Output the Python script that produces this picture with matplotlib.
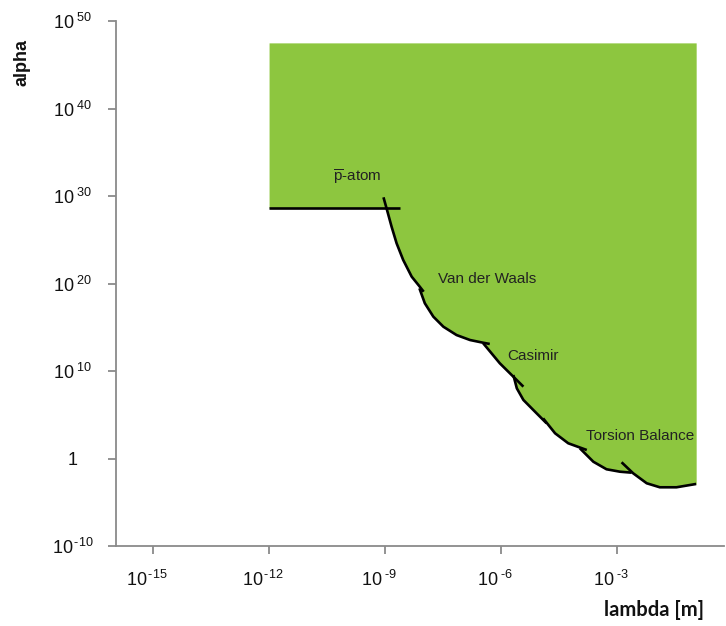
import numpy as np
import matplotlib
matplotlib.use("Agg")
import matplotlib.pyplot as plt
import matplotlib.transforms as mtransforms
from matplotlib.ticker import FixedLocator, FuncFormatter

plt.rcParams['font.family'] = ['Liberation Sans', 'DejaVu Sans']
plt.rcParams['mathtext.fontset'] = 'custom'
plt.rcParams['mathtext.rm'] = 'Liberation Sans'
plt.rcParams['mathtext.it'] = 'Liberation Sans:italic'
plt.rcParams['mathtext.bf'] = 'Liberation Sans:bold'

# ---- data (log10 exponents of lambda [m] and alpha) ----
patom_lam = [-12.0, -8.61]
patom_alpha = [28.63, 28.63]

vdw1_lam = [-9.04, -8.96, -8.83, -8.70, -8.53, -8.31, -8.10, -8.00]
vdw1_alpha = [29.85, 28.59, 26.49, 24.59, 22.69, 20.78, 19.63, 19.06]

vdw2_lam = [-8.11, -7.97, -7.75, -7.49, -7.15, -6.80, -6.46, -6.29]
vdw2_alpha = [19.45, 17.74, 16.21, 15.06, 14.11, 13.54, 13.23, 13.09]

cas_lam = [-6.46, -6.03, -5.68, -5.42]
cas_alpha = [13.17, 10.88, 9.35, 8.21]

cas2_lam = [-5.68, -5.59, -5.42, -5.12, -4.82]
cas2_alpha = [9.54, 8.02, 6.69, 5.35, 4.02]

tb1_lam = [-4.91, -4.60, -4.26, -3.78]
tb1_alpha = [4.59, 2.88, 1.74, 0.97]

tb2_lam = [-3.96, -3.61, -3.27, -2.92, -2.62]
tb2_alpha = [1.17, -0.37, -1.23, -1.51, -1.62]

tb3_lam = [-2.88, -2.58, -2.23, -1.89, -1.46, -0.95]
tb3_alpha = [-0.43, -1.69, -2.83, -3.29, -3.29, -2.91]

region_top = 47.5

labels = ["$\\overline{\\mathrm{p}}$-atom", "Van der Waals", "Casimir", "Torsion Balance"]

xtick_exp = [-15, -12, -9, -6, -3]
ytick_exp = [-10, 0, 10, 20, 30, 40, 50]

segments = [(patom_lam, patom_alpha), (vdw1_lam, vdw1_alpha), (vdw2_lam, vdw2_alpha),
            (cas_lam, cas_alpha), (cas2_lam, cas2_alpha), (tb1_lam, tb1_alpha),
            (tb2_lam, tb2_alpha), (tb3_lam, tb3_alpha)]

# ---- figure ----
W, H = 726, 626
fig = plt.figure(figsize=(W / 100, H / 100), dpi=100)
ax = fig.add_axes([116 / W, 1 - 546 / H, (724 - 116) / W, (546 - 21) / H])
ax.set_xscale('log')
ax.set_yscale('log')
ax.set_xlim(10 ** -15.96, 10 ** -0.23)
ax.set_ylim(1e-10, 1e50)

# excluded region: above the lowest constraint curve
g = np.linspace(patom_lam[0], tb3_lam[-1], 2000)
env = np.full_like(g, np.inf)
for lx, ly in segments:
    lx = np.asarray(lx); ly = np.asarray(ly)
    inside = (g >= lx.min()) & (g <= lx.max())
    vals = np.interp(g, lx, ly)
    env = np.where(inside, np.minimum(env, vals), env)
green = '#8DC63F'
ax.fill_between(10 ** g, 10 ** env, 10 ** region_top, color=green, lw=0, zorder=1)

for lx, ly in segments:
    ax.plot(10 ** np.asarray(lx), 10 ** np.asarray(ly), color='black', lw=1.9,
            solid_capstyle='butt', solid_joinstyle='round', zorder=3)

txt_kw = dict(fontsize=11, color='#222222', va='center', ha='left', zorder=4)
ax.text(10 ** -10.35, 10 ** 32.1, labels[0], **txt_kw)
ax.text(10 ** -7.63, 10 ** 20.5, labels[1], **txt_kw)
ax.text(10 ** -5.85, 10 ** 11.7, labels[2], **txt_kw)
ax.text(10 ** -3.80, 10 ** 2.6, labels[3], **txt_kw)

# axes styling
gray = '#8a8a8a'
for s in ['top', 'right']:
    ax.spines[s].set_visible(False)
for s in ['left', 'bottom']:
    ax.spines[s].set_color(gray)
    ax.spines[s].set_linewidth(1.3)

ax.xaxis.set_major_locator(FixedLocator([10.0 ** e for e in [-16] + xtick_exp]))
ax.yaxis.set_major_locator(FixedLocator([10.0 ** e for e in ytick_exp]))
ax.xaxis.set_minor_locator(FixedLocator([]))
ax.yaxis.set_minor_locator(FixedLocator([]))


def sup(e):
    s = str(e)
    sp = r'\ ' if len(s) < 3 else r'\,'
    return r'$10^{%s\text{%s}}$' % (sp, s)


def fmt_x(v, pos):
    e = int(round(np.log10(v)))
    if e == -16:
        return ''
    return sup(e)


def fmt_y(v, pos):
    e = int(round(np.log10(v)))
    if e == 0:
        return '1'
    return sup(e)


ax.xaxis.set_major_formatter(FuncFormatter(fmt_x))
ax.yaxis.set_major_formatter(FuncFormatter(fmt_y))
ax.tick_params(axis='both', which='major', direction='out', length=6, width=1.3,
               color=gray, labelsize=13, labelcolor='#111111')
ax.tick_params(axis='x', pad=11)
ax.tick_params(axis='y', pad=25)
for lab in ax.get_yticklabels():
    lab.set_ha('center')
shift = mtransforms.ScaledTranslation(-6 / 100, 0, fig.dpi_scale_trans)
for lab in ax.get_xticklabels():
    lab.set_transform(lab.get_transform() + shift)

fig.text(22 / W, 1 - 62 / H, 'alpha', rotation=90, ha='center', va='center',
         fontsize=13, fontweight='bold', color='#111111')
fig.text(654 / W, 1 - 610 / H, 'lambda [m]', ha='center', va='center',
         fontsize=14.5, fontweight='bold', color='#111111', family=['Lato', 'DejaVu Sans'])

fig.savefig('out.png', dpi=100)
